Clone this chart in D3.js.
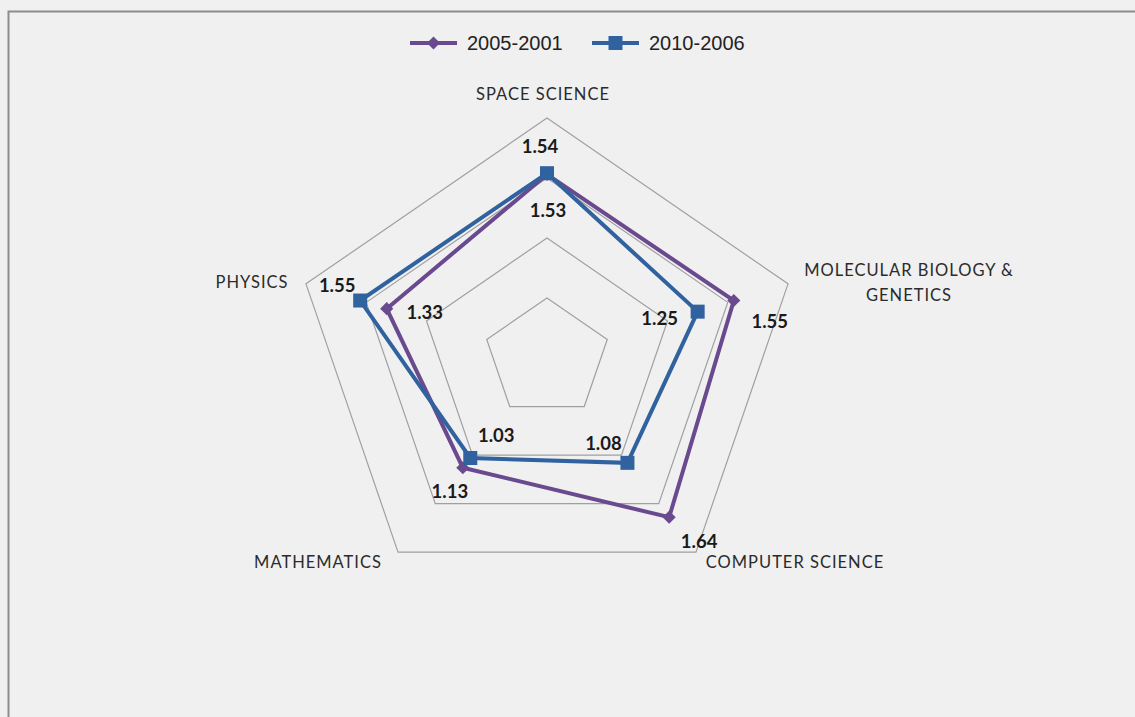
<!DOCTYPE html>
<html>
<head>
<meta charset="utf-8">
<script src="https://cdn.jsdelivr.net/npm/d3@7"></script>
<style>
  body { margin: 0; background: #fff; }
  svg { display: block; }
</style>
</head>
<body>
<svg id="chart" width="1135" height="717"></svg>
<script>
// data
var categories = ["SPACE SCIENCE", "MOLECULAR BIOLOGY & GENETICS", "COMPUTER SCIENCE", "MATHEMATICS", "PHYSICS"];
var seriesNames = ["2005-2001", "2010-2006"];
var values2005 = [1.53, 1.55, 1.64, 1.13, 1.33];
var values2010 = [1.54, 1.25, 1.08, 1.03, 1.55];
var ringTicks = [0.5, 1.0, 1.5, 2.0];

var colors = ["#6a4a8e", "#30629f"];

var svg = d3.select("#chart");

// background + frame
svg.append("rect").attr("x", 0).attr("y", 0).attr("width", 1135).attr("height", 717).attr("fill", "#f0f0f0");
svg.append("path").attr("d", "M8.5,717 L8.5,11.5 L1135,11.5")
  .attr("fill", "none").attr("stroke", "#8c8c8c").attr("stroke-width", 2);

var cx = 547, cy = 358;
var xStretch = 1.056;
var r = d3.scaleLinear().domain([0, 2]).range([0, 240]);
var angle = d3.scaleLinear().domain([0, categories.length]).range([0, 2 * Math.PI]);

function pt(i, v) {
  var a = angle(i);
  return [cx + r(v) * Math.sin(a) * xStretch, cy - r(v) * Math.cos(a)];
}

var g = svg.append("g");

// grid rings
ringTicks.forEach(function(t) {
  var pts = categories.map(function(c, i) { return pt(i, t); });
  g.append("polygon")
    .attr("points", pts.map(function(p) { return p.join(","); }).join(" "))
    .attr("fill", "none")
    .attr("stroke", "#a0a0a0")
    .attr("stroke-width", 1.2);
});

// category labels
var catPos = [[543, 100], [909, 276], [795, 568], [318, 568], [252, 288]];
categories.forEach(function(c, i) {
  var t = g.append("text")
    .attr("x", catPos[i][0]).attr("y", catPos[i][1])
    .attr("text-anchor", "middle")
    .style("font-family", "Lato, 'Open Sans', sans-serif")
    .style("font-size", "16.5px")
    .style("letter-spacing", "1px")
    .attr("fill", "#2b2b2b");
  if (i === 1) {
    t.append("tspan").attr("x", catPos[i][0]).attr("dy", 0).text("MOLECULAR BIOLOGY &");
    t.append("tspan").attr("x", catPos[i][0]).attr("dy", 25).text("GENETICS");
  } else {
    t.text(c);
  }
});

var series = [values2005, values2010];
var line = d3.line().curve(d3.curveLinearClosed);

series.forEach(function(vals, s) {
  var pts = vals.map(function(v, i) { return pt(i, v); });
  g.append("path")
    .attr("d", line(pts))
    .attr("fill", "none")
    .attr("stroke", colors[s])
    .attr("stroke-width", 4)
    .attr("stroke-linejoin", "miter");
});

// markers
series.forEach(function(vals, s) {
  vals.forEach(function(v, i) {
    var p = pt(i, v);
    if (s === 0) {
      g.append("path")
        .attr("d", d3.symbol().type(d3.symbolDiamond2).size(110)())
        .attr("transform", "translate(" + p[0] + "," + p[1] + ")")
        .attr("fill", colors[s]);
    } else {
      g.append("rect")
        .attr("x", p[0] - 7).attr("y", p[1] - 7)
        .attr("width", 14).attr("height", 14)
        .attr("fill", colors[s]);
    }
  });
});

// value labels, offsets from each point (layout only)
var labelOffsets = [
  [[1, 43], [36, 27], [30, 31], [-13, 30], [38, 10]],
  [[-7, -20], [-38, 13], [-24, -13], [26, -16], [-23, -9]]
];
series.forEach(function(vals, s) {
  vals.forEach(function(v, i) {
    var p = pt(i, v);
    g.append("text")
      .attr("x", p[0] + labelOffsets[s][i][0])
      .attr("y", p[1] + labelOffsets[s][i][1])
      .attr("text-anchor", "middle")
      .style("font-family", "Lato, 'Open Sans', sans-serif")
      .style("font-size", "18.5px")
      .style("font-weight", "bold")
      .attr("fill", "#1a1a1a")
      .text(d3.format(".2f")(v));
  });
});

// legend
var legendX = [410, 592];
seriesNames.forEach(function(name, s) {
  var lg = svg.append("g").attr("transform", "translate(" + legendX[s] + ",43)");
  lg.append("line").attr("x1", 0).attr("x2", 47).attr("y1", 0).attr("y2", 0)
    .attr("stroke", colors[s]).attr("stroke-width", 4);
  if (s === 0) {
    lg.append("path").attr("d", d3.symbol().type(d3.symbolDiamond2).size(110)())
      .attr("transform", "translate(23.5,0)").attr("fill", colors[s]);
  } else {
    lg.append("rect").attr("x", 16.5).attr("y", -7).attr("width", 14).attr("height", 14)
      .attr("fill", colors[s]);
  }
  lg.append("text").attr("x", 57).attr("y", 7)
    .style("font-family", "'Liberation Sans', Arial, sans-serif")
    .style("font-size", "20px")
    .attr("fill", "#222")
    .text(name);
});
</script>
</body>
</html>
